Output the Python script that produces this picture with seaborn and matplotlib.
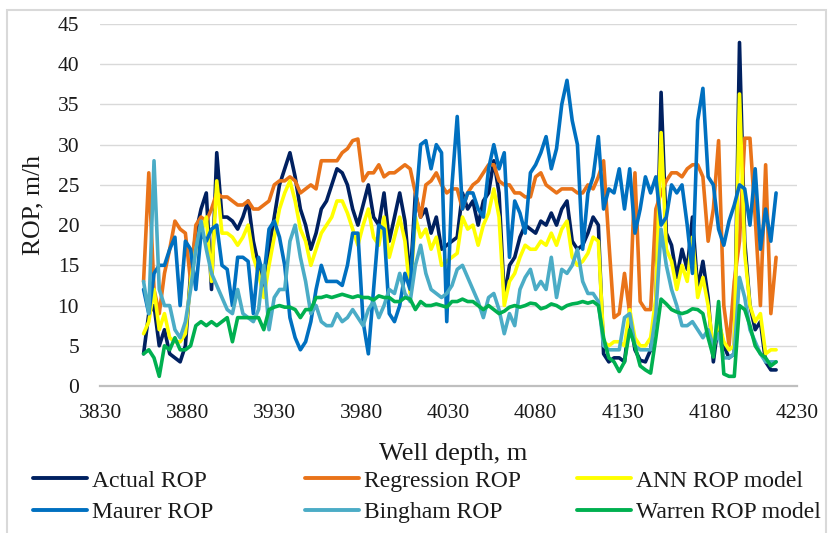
import numpy as np
import pandas as pd
import matplotlib
matplotlib.use("Agg")
import matplotlib.pyplot as plt
import seaborn as sns
from matplotlib.lines import Line2D
from matplotlib.patches import Rectangle

# Well depth sampled every 3 m
depth = np.arange(3855, 4219, 3)

actual = [4, 9, 10, 5, 7, 4, 3.5, 3, 5, 14,
          19, 22, 24, 12, 29, 21, 21, 20.5, 19.5, 21,
          23, 18, 15, 12, 17, 21, 25, 27, 29, 26,
          22, 20, 17, 19, 22, 23, 25, 27, 26.5, 25,
          22, 20, 22.5, 25, 21, 20, 24, 18, 21, 24,
          20.5, 13, 24, 21, 22, 19, 21, 17, 17.5, 18,
          18.5, 24, 22, 23, 20, 23, 24, 28, 24, 11,
          15, 16, 18.5, 20, 19.5, 19, 20.5, 20, 21.5, 20,
          22, 23, 18, 17, 17.5, 19, 21, 20, 4, 3,
          3.5, 3.5, 3, 8.5, 4.5, 3.2, 3, 4.5, 10, 36.5,
          19, 17.5, 13.5, 17, 14.5, 21, 12, 15.5, 11, 3,
          8, 5, 3.5, 4, 42.7, 18, 10, 7, 8, 3,
          2, 2]

regression = [13, 26.5, 12, 9, 14, 17, 20.5, 19.5, 19, 13,
              20, 21, 20.5, 22, 24, 23.5, 23.5, 23, 22.5, 22.5,
              23, 22, 22, 22.5, 23, 25, 25.5, 25.5, 26, 25.5,
              24, 24.5, 25, 24.5, 28, 28, 28, 28, 29, 29.5,
              30.5, 30.7, 25.5, 26.5, 26.5, 27.5, 26, 26.5, 26.5, 27,
              27.5, 27, 24, 21, 25, 25.5, 26.5, 25, 24, 24.5,
              24.5, 22, 24, 25, 25.5, 26.5, 27.5, 27.5, 25.5, 25,
              25, 24, 24, 23.5, 23.5, 26, 26.5, 25, 24.5, 24,
              24.5, 24.5, 24.5, 24, 24, 25, 24.5, 26, 28, 18,
              8.5, 9, 14, 9, 26.5, 10.5, 9.5, 9.5, 22, 24,
              25.5, 26.5, 26.5, 26, 27, 27.5, 27.5, 26, 18, 22,
              30.5, 10, 5, 13, 18, 30.8, 30.8, 21, 10, 27.5,
              9, 16]

ann = [6.5, 8, 12, 7, 9, 6, 5.5, 5.5, 6.5, 13,
       17, 19, 21, 13, 25.5, 19, 19, 18.5, 17.5, 18.5,
       20, 16, 14, 11, 15, 18.5, 22, 24, 25.5, 23,
       19.5, 18, 15, 17, 19, 20, 21, 23, 23, 21.5,
       19.5, 17.5, 20, 22, 18.5, 17.5, 21, 16, 18.5, 21,
       18, 11.5, 21, 18.5, 19.5, 17, 18.5, 15, 15.5, 16,
       16.5, 21, 19.5, 20, 17.5, 20, 21.5, 24.5, 21, 10,
       13, 14, 16, 17.5, 17, 17, 18, 17.5, 19, 17.5,
       19.5, 20.5, 16, 15, 15.5, 16.5, 18.5, 18, 5.5, 5,
       5.5, 5.5, 5, 9.5, 6, 5, 5, 6, 11, 31.5,
       17, 15.5, 12, 15, 13, 18.5, 11, 13.5, 10, 4.5,
       8, 5.5, 4.5, 5, 36.3, 16.5, 10, 8, 9, 4,
       4.5, 4.5]

maurer = [12, 9, 14, 15, 15, 17, 18.5, 10, 18, 17,
          12, 19, 18, 19.5, 20, 15, 14.5, 10, 16, 16,
          15.5, 9, 16, 13.5, 19.5, 20.5, 18.5, 15, 8.5, 6,
          4.5, 5.5, 8, 12, 15, 13, 13, 13, 12.5, 15,
          19, 19, 8, 4, 12, 20, 19.5, 9, 8, 10,
          14, 12, 22, 30, 30.5, 27, 30, 29, 8, 25,
          33.5, 22, 24, 24, 22, 21, 27, 30, 27, 29,
          16, 23, 21.5, 19, 26.5, 27.5, 29, 31, 27, 29.5,
          35, 38, 33, 30, 17, 24, 26, 31, 22, 24.5,
          24, 27, 22, 27, 19, 22, 26, 24, 26, 20,
          21, 25, 24, 25, 20, 14, 33, 37, 26, 25,
          19.5, 17.5, 20.5, 22.5, 25, 24.5, 20, 27, 17, 22,
          18, 24]

bingham = [13, 9, 28, 12, 10, 10, 7, 6, 8, 12,
           17, 20.5, 17, 14, 12.5, 11, 9.5, 9, 12, 9,
           8.5, 8, 9.5, 15, 7, 11, 12, 12, 18, 20,
           16, 13, 9, 10, 8, 7.5, 7.5, 9, 8, 8.5,
           9.5, 8.5, 7.5, 9.5, 10.5, 8.5, 10, 12, 11.5, 14,
           11.5, 10.5, 15, 17.5, 14, 12, 11.5, 11, 11.5, 12.5,
           14.5, 15, 13.5, 12, 10.5, 8.5, 11, 11.5, 9.5, 6.5,
           9, 7.5, 12, 13.5, 14.5, 12, 13, 12, 16, 11,
           14.5, 14, 15, 17, 13, 11.5, 11.5, 10.5, 5, 4.5,
           4.5, 4.5, 8.5, 9, 5, 4.5, 4.5, 4.5, 9, 19.5,
           15, 12, 10, 7.5, 7.5, 8, 7, 6, 7, 5,
           6.5, 3.5, 3.5, 4, 13.5, 11, 7, 5.5, 4, 3,
           3, 3]

warren = [4, 4.5, 3.5, 1.2, 5, 4.5, 6, 4.5, 4.5, 5,
          7.5, 8, 7.5, 8, 7.5, 8, 8.5, 5.5, 8.5, 8.5,
          8.5, 8.5, 8.5, 7, 9.5, 9.8, 10, 9.8, 9.8, 9.5,
          8.5, 9.5, 9.5, 11, 11, 11.2, 11, 11.2, 11.4, 11.2,
          11, 11.2, 11, 11, 10.7, 11.2, 11, 11, 10.5, 10.5,
          11, 10.8, 9.5, 10.5, 10, 10, 10.2, 10, 9.8, 10.5,
          10.5, 10.8, 10.5, 10.5, 10, 9.5, 10, 9.5, 9, 9.3,
          9.8, 10, 9.8, 10, 10.3, 10.2, 9.6, 9.8, 10.2, 10,
          9.6, 10, 10.2, 10.3, 10.5, 10.3, 10.5, 10, 6, 3.5,
          3, 1.8, 3, 7, 5, 2.5, 2, 1.6, 6, 10.8,
          10.2, 9.5, 9.2, 9, 9.2, 9.6, 9.5, 9, 6, 3.6,
          10.5, 1.5, 1.2, 1.2, 10, 9.5, 7.5, 5, 4, 3.5,
          2.5, 3]

series_names = ["Actual ROP", "Regression ROP", "ANN ROP model",
                "Maurer ROP", "Bingham ROP", "Warren ROP model"]
series_values = [actual, regression, ann, maurer, bingham, warren]
series_colors = ["#002060", "#E97319", "#FFFF00",
                 "#0070C0", "#4BACC6", "#00B050"]

x_ticks = [3830, 3880, 3930, 3980, 4030, 4080, 4130, 4180, 4230]
y_ticks = [0, 5, 10, 15, 20, 25, 30, 35, 40, 45]

frames = []
for name, vals in zip(series_names, series_values):
    frames.append(pd.DataFrame({"depth": depth, "rop": vals, "series": name}))
df = pd.concat(frames, ignore_index=True)

sns.set_theme(style="white")
plt.rcParams["font.family"] = ["Liberation Serif", "DejaVu Serif"]

W, H = 830, 533
fig = plt.figure(figsize=(W / 100, H / 100), dpi=100)
ax = fig.add_axes([100 / W, 1 - 386 / H, 697 / W, 362 / H])

sns.lineplot(data=df, x="depth", y="rop", hue="series",
             hue_order=series_names, palette=series_colors,
             linewidth=2.6, sort=False, legend=False, ax=ax)
for line in ax.get_lines():
    line.set_solid_joinstyle("round")
    line.set_solid_capstyle("round")

ax.set_xlim(x_ticks[0], x_ticks[-1])
ax.set_ylim(y_ticks[0], y_ticks[-1])
ax.set_xticks(x_ticks)
ax.set_yticks(y_ticks)
ax.grid(axis="y", color="#D9D9D9", linewidth=1.0)
ax.grid(axis="x", visible=False)
ax.set_axisbelow(True)
for side in ["top", "right", "left"]:
    ax.spines[side].set_visible(False)
ax.spines["bottom"].set_color("#BFBFBF")
ax.spines["bottom"].set_linewidth(1.6)
ax.tick_params(axis="both", length=0, labelsize=15.5, colors="#1a1a1a")
ax.tick_params(axis="x", pad=13)
ax.tick_params(axis="y", pad=15)
ax.set_xlabel("")
ax.set_ylabel("")

fig.text(33 / W, 1 - 205 / H, "ROP, m/h", rotation=90, ha="center",
         va="center", fontsize=18.5, color="#1a1a1a")
fig.text(453 / W, 1 - 460 / H, "Well depth, m", ha="center",
         va="baseline", fontsize=19, color="#1a1a1a")

# Legend laid out in three columns of two rows each
col_x = [33, 305, 577]
for c in range(3):
    idx = [c, c + 3]
    handles = [Line2D([0], [0], color=series_colors[i], lw=2.8) for i in idx]
    labels = [series_names[i] for i in idx]
    fig.legend(handles, labels, loc="upper left",
               bbox_to_anchor=(col_x[c] / W, 1 - 470 / H),
               frameon=False, fontsize=17, handlelength=2.3,
               handletextpad=0.2, borderpad=0, borderaxespad=0,
               labelspacing=0.42, labelcolor="#1a1a1a")

fig.patches.append(Rectangle((7 / W, -0.05), 819 / W, 1.05 - 10 / H,
                             transform=fig.transFigure, fill=False,
                             edgecolor="#D9D9D9", linewidth=1.5))

fig.savefig("out.png", dpi=100)
